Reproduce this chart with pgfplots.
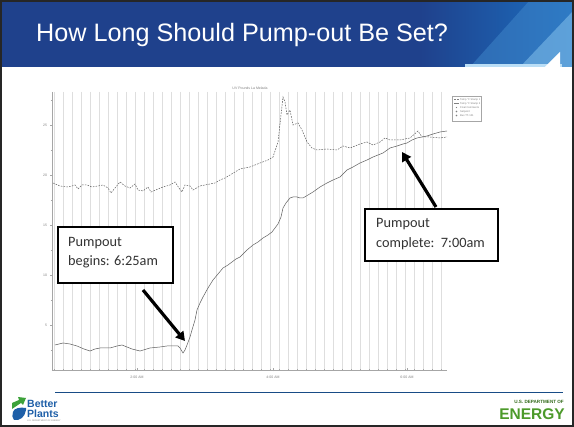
\documentclass[border=0pt]{standalone}
\usepackage{pgfplots}
\pgfplotsset{compat=1.18}
\usepackage{pgfplotstable}
\usetikzlibrary{arrows.meta}
\usepackage{fontspec}
\setmainfont{Liberation Sans}
\newfontfamily\carlito{Carlito}
\definecolor{navy}{HTML}{1F418C}
\definecolor{brightblue}{HTML}{1C6FC0}
\definecolor{lightblue}{HTML}{8CC8F0}
\definecolor{bpblue}{HTML}{1E5FA8}
\definecolor{bpgreen}{HTML}{3DA23A}
\definecolor{doegreen}{HTML}{4C9A2A}
\definecolor{gridgray}{HTML}{DEDEDE}
\definecolor{linegray}{HTML}{5E5E5E}

% x: horizontal position along the time axis, y: reading (plot units)
\pgfplotstableread{
x y
53 183
60 186
67 187
72 186
75 185
78 189
82 185
87 185
92 187
98 186
103 185
108 188
111 193
115 188
120 182
125 186
130 188
135 184
138 190
143 191
148 187
151 192
158 189
163 187
170 185
175 182
179 188
182 192
185 185
190 186
193 190
200 186
210 184
215 183
220 180
225 178
230 175
235 172
240 169
250 167
260 163
268 160
273 157
278 142
281 115
283 97
285 102
287 115
290 110
293 125
298 123
302 130
307 142
312 148
317 150
327 149
337 150
343 146
350 148
360 144
367 142
373 145
380 142
385 138
390 140
400 140
410 138
418 131
422 137
430 137
440 138
447 137
}\dashedser

\pgfplotstableread{
x y
55 345
63 343
70 344
77 346
84 349
90 351
95 349
100 348
110 348
117 346
122 345
127 347
132 349
140 351
150 348
160 347
167 346
173 346
178 346
180 348
183 353
185 350
187 345
190 337
192 330
195 320
197 310
200 303
203 297
208 288
213 280
218 274
223 268
228 265
232 262
236 259
240 257
247 250
253 245
258 242
263 238
268 235
272 232
275 228
278 224
281 217
283 208
286 203
290 198
293 197
297 197
300 198
303 198
308 195
313 192
320 187
327 183
333 180
340 177
347 170
353 167
360 163
367 160
373 157
378 155
383 153
390 148
397 146
403 144
407 143
412 140
417 138
422 137
427 136
433 134
440 132
447 131
}\solidser

\begin{document}
\begin{tikzpicture}
\useasboundingbox (0,0) rectangle (574pt,427pt);
\fill[white] (0,0) rectangle (574pt,427pt);
\begin{scope}[x=1pt,y=-1pt,yshift=427pt]
  % title band
  \fill[navy] (0,0) rectangle (574,67);
  \shade[left color=navy,right color=brightblue] (420,0) rectangle (574,67);
  \fill[brightblue!85!white,opacity=0.55] (470,67) -- (530,0) -- (574,0) -- (574,67) -- cycle;
  \fill[lightblue,opacity=0.5] (520,67) -- (574,10) -- (574,67) -- cycle;
  \fill[lightblue!60!white] (465,64) rectangle (562,67);
  \fill[white] (545,67) -- (560,52) -- (560,67) -- cycle;
  \node[anchor=base west,inner sep=0pt,text=white,font=\fontsize{25.2}{29}\selectfont] at (36,42) {How Long Should Pump-out Be Set?};
  % chart title
  \node[inner sep=0pt,text=gray,font=\fontsize{3.5}{4}\selectfont] at (250,88) {UV Pounds La Melada};
  % footer
  \draw[bpblue!80!black,line width=0.9pt] (55,392) -- (563,392);
\end{scope}

\begin{axis}[
  at={(52pt,57pt)}, anchor=south west,
  scale only axis, width=395pt, height=278pt,
  xmin=52, xmax=447, ymin=92, ymax=370,
  y dir=reverse,
  axis x line=bottom, axis y line=left,
  axis line style={-, draw=gray!70, line width=0.6pt},
  xtick={137,273,407},
  xticklabels={2:00 AM,4:00 AM,6:00 AM},
  minor xtick={54,63,...,446},
  xminorgrids=true,
  minor grid style={draw=gridgray, line width=0.5pt},
  ytick={125,175,225,275,325},
  yticklabels={25,20,15,10,5},
  minor ytick={100,150,200,250,300,350},
  tick style={draw=gray!70, line width=0.4pt},
  major tick length=3pt, minor tick length=2pt,
  tick label style={font=\fontsize{3.5}{4}\selectfont, text=gray},
  /pgf/number format/assume math mode=true,
  xticklabel style={yshift=-1pt},
  clip=false,
]
\addplot[linegray, line width=0.5pt, dash pattern=on 1.6pt off 1.2pt] table[x=x,y=y] {\dashedser};
\addplot[linegray, line width=0.5pt] table[x=x,y=y] {\solidser};
\end{axis}

\begin{scope}[x=1pt,y=-1pt,yshift=427pt]
  % legend box
  \draw[gray!70,fill=white,line width=0.4pt] (452,96) rectangle (481,121);
  \draw[gray,line width=0.3pt,dash pattern=on 0.8pt off 0.6pt] (454,99.5) -- (459,99.5);
  \draw[gray,line width=0.3pt] (454,103.5) -- (459,103.5);
  \fill[gray] (456.5,107.5) circle (0.6);
  \draw[gray,line width=0.3pt] (456.5,111.5) circle (0.7);
  \draw[gray,line width=0.3pt] (456.5,115.5) circle (0.7);
  \begin{scope}[every node/.style={anchor=west,inner sep=0pt,text=gray,font=\fontsize{2.6}{3}\selectfont}]
    \node at (460,99.5) {Temp °F Stamp 1};
    \node at (460,103.5) {Temp °F Stamp 2};
    \node at (460,107.5) {Final Comments};
    \node at (460,111.5) {Setpoint};
    \node at (460,115.5) {Bus TT-101};
  \end{scope}
  % annotation boxes
  \draw[black,fill=white,line width=1.3pt] (58,227) rectangle (173,283);
  \node[anchor=base west,inner sep=0pt,font=\carlito\fontsize{14.3}{17}\selectfont,text=black!80] at (68,246.5) {Pumpout};
  \node[anchor=base west,inner sep=0pt,font=\carlito\fontsize{14.3}{17}\selectfont,text=black!80] at (68,266) {begins: 6:25am};
  \draw[black,fill=white,line width=1.3pt] (365,209) rectangle (498,261);
  \node[anchor=base west,inner sep=0pt,font=\carlito\fontsize{14.3}{17}\selectfont,text=black!80] at (376,228) {Pumpout};
  \node[anchor=base west,inner sep=0pt,font=\carlito\fontsize{14.3}{17}\selectfont,text=black!80] at (376,248) {complete:\ \ 7:00am};
  % arrows
  \draw[black,line width=3.2pt,-{Triangle[length=9pt,width=10pt]}] (143,290) -- (185,341);
  \draw[black,line width=3.2pt,-{Triangle[length=9pt,width=10pt]}] (436,207) -- (402,152);
  % Better Plants logo
  \fill[bpgreen] (12,409) -- (12,403) -- (19,400) -- (18,397) -- (26,398) -- (23,405) -- (21,403) -- cycle;
  \fill[bpblue] (13,412) .. controls (14,408) and (20,407) .. (26,408) -- (26,410) .. controls (25,417) and (20,421) .. (14,420) .. controls (12,418) and (12,415) .. (13,412) -- cycle;
  \node[anchor=base west,inner sep=0pt,text=bpblue,font=\bfseries\fontsize{10.5}{12}\selectfont] at (27,408) {Better};
  \node[anchor=base west,inner sep=0pt,text=bpblue,font=\bfseries\fontsize{10.5}{12}\selectfont] at (27,418) {Plants};
  \node[anchor=base west,inner sep=0pt,text=gray,font=\fontsize{2.2}{3}\selectfont] at (27,422) {U.S. DEPARTMENT OF ENERGY};
  % DOE logo
  \node[anchor=base east,inner sep=0pt,text=doegreen!70!black,font=\bfseries\fontsize{4.6}{5}\selectfont] at (564,404) {U.S. DEPARTMENT OF};
  \node[anchor=base east,inner sep=0pt,text=doegreen,font=\bfseries\fontsize{15.5}{17}\selectfont] at (565,420) {ENERGY};
  % slide border
  \draw[black!85,line width=2.4pt] (1.2,1.2) rectangle (572.8,425.8);
\end{scope}
\end{tikzpicture}
\end{document}
